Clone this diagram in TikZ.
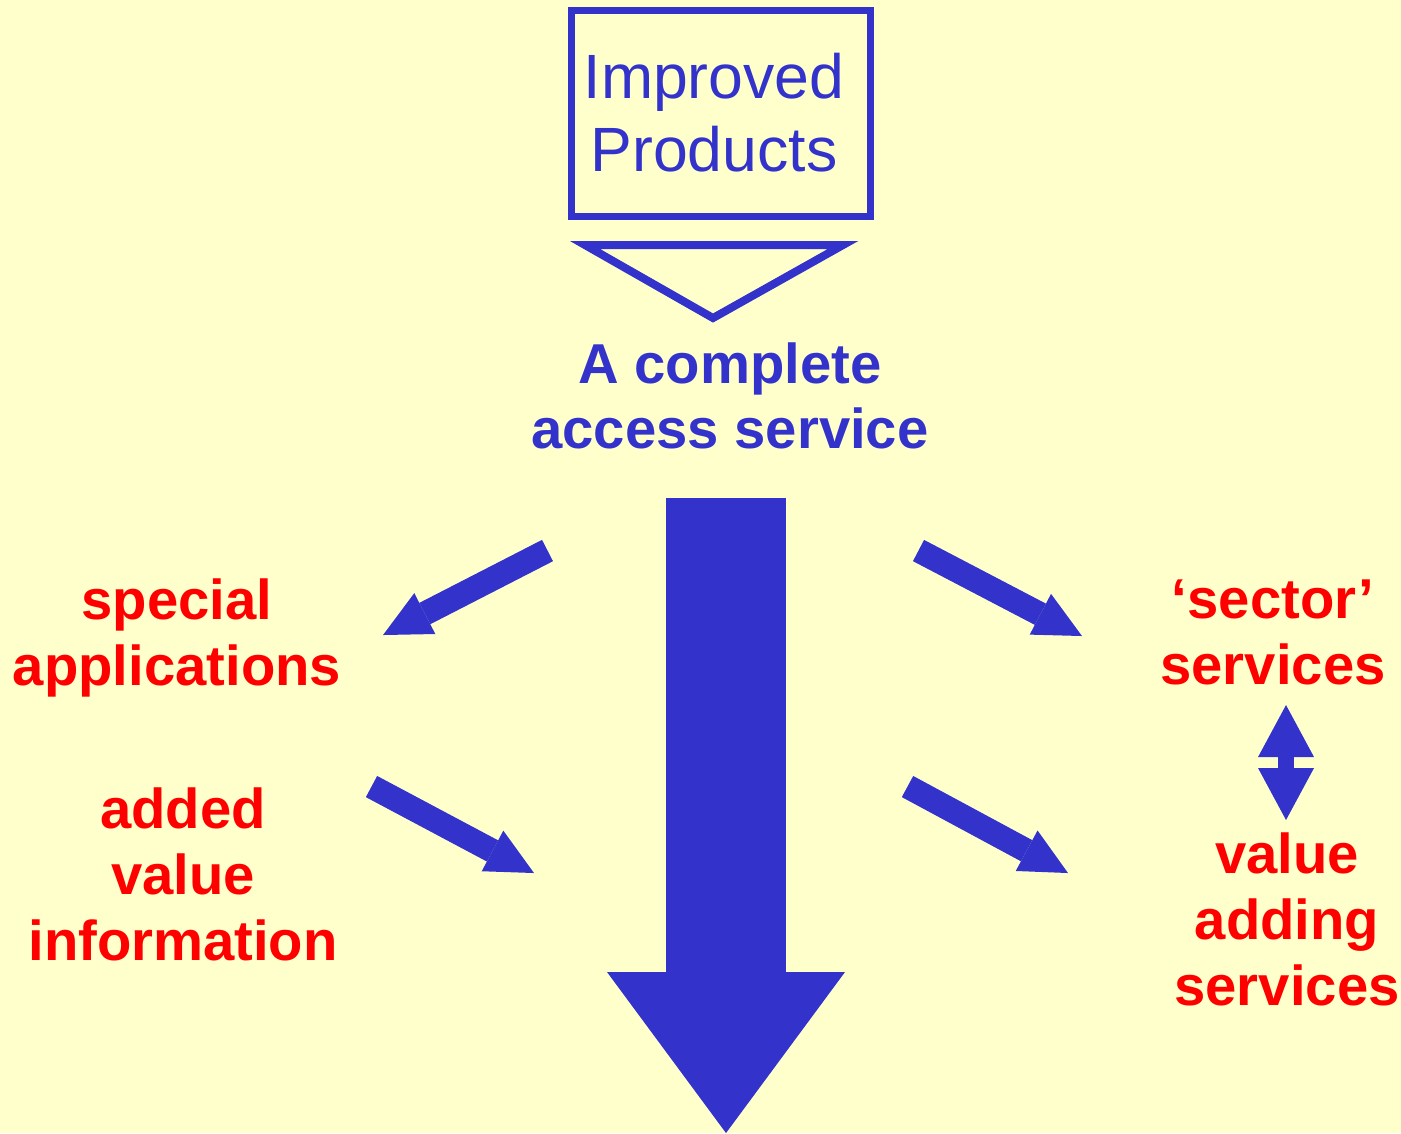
\documentclass[tikz,border=0pt]{standalone}
\usepackage{fontspec}
\setmainfont{Liberation Sans}
\usetikzlibrary{arrows.meta}

\definecolor{paper}{RGB}{255,255,204}
\definecolor{ink}{RGB}{51,51,204}
\definecolor{hot}{RGB}{255,0,0}

\begin{document}
\begin{tikzpicture}[
	redtext/.style={text=hot, align=center, font=\fontsize{16pt}{18.8pt}\selectfont\bfseries},
	bluetext/.style={text=ink, align=center, font=\fontsize{16pt}{18.5pt}\selectfont\bfseries},
	slim/.style={ink, line width=0.24cm, -{Triangle[length=0.47cm, width=0.46cm, line width=0pt]}},
	]

	\fill[paper] (0,0) rectangle (14.01,-11.33);
	\useasboundingbox (0,0) rectangle (14.01,-11.33);

	\draw (7.205,-1.13) node[draw=ink, line width=0.07cm, minimum width=2.99cm, minimum height=2.06cm, text=ink, align=center, font=\fontsize{17.8pt}{20.8pt}\selectfont](prod){Improved\hspace*{0.13cm}\\Products\hspace*{0.13cm}};
	\draw[ink, line width=0.08cm] (5.85,-2.45) -- (8.43,-2.45) -- (7.13,-3.18) -- cycle;

	\draw (7.30,-3.96) node[bluetext](access){A complete\\access service};
	\draw (1.77,-6.38) node[redtext](special){special\\applications};
	\draw (1.83,-8.74) node[redtext](added){added\\value\\information};
	\draw (12.73,-6.32) node[redtext](sector){‘sector’\\services};
	\draw (12.87,-9.19) node[redtext](adding){value\\adding\\services};

	\coordinate (s1) at (5.475,-5.505);
	\coordinate (s2) at (3.83,-6.35);
	\coordinate (t1) at (9.185,-5.505);
	\coordinate (t2) at (10.82,-6.36);
	\coordinate (u1) at (3.715,-7.865);
	\coordinate (u2) at (5.34,-8.73);
	\coordinate (v1) at (9.075,-7.865);
	\coordinate (v2) at (10.68,-8.73);
	\coordinate (m1) at (7.26,-4.98);
	\coordinate (m2) at (7.26,-11.33);
	\coordinate (d1) at (12.86,-7.05);
	\coordinate (d2) at (12.86,-8.20);

	\draw [slim](s1) -- (s2);
	\draw [slim](t1) -- (t2);
	\draw [slim](u1) -- (u2);
	\draw [slim](v1) -- (v2);
	\draw [ink, line width=1.2cm, -{Triangle[length=1.61cm, width=2.38cm, line width=0pt]}](m1) -- (m2);
	\draw [ink, line width=0.16cm, {Triangle[length=0.52cm, width=0.56cm, line width=0pt]}-{Triangle[length=0.52cm, width=0.56cm, line width=0pt]}](d1) -- (d2);
\end{tikzpicture}
\end{document}
